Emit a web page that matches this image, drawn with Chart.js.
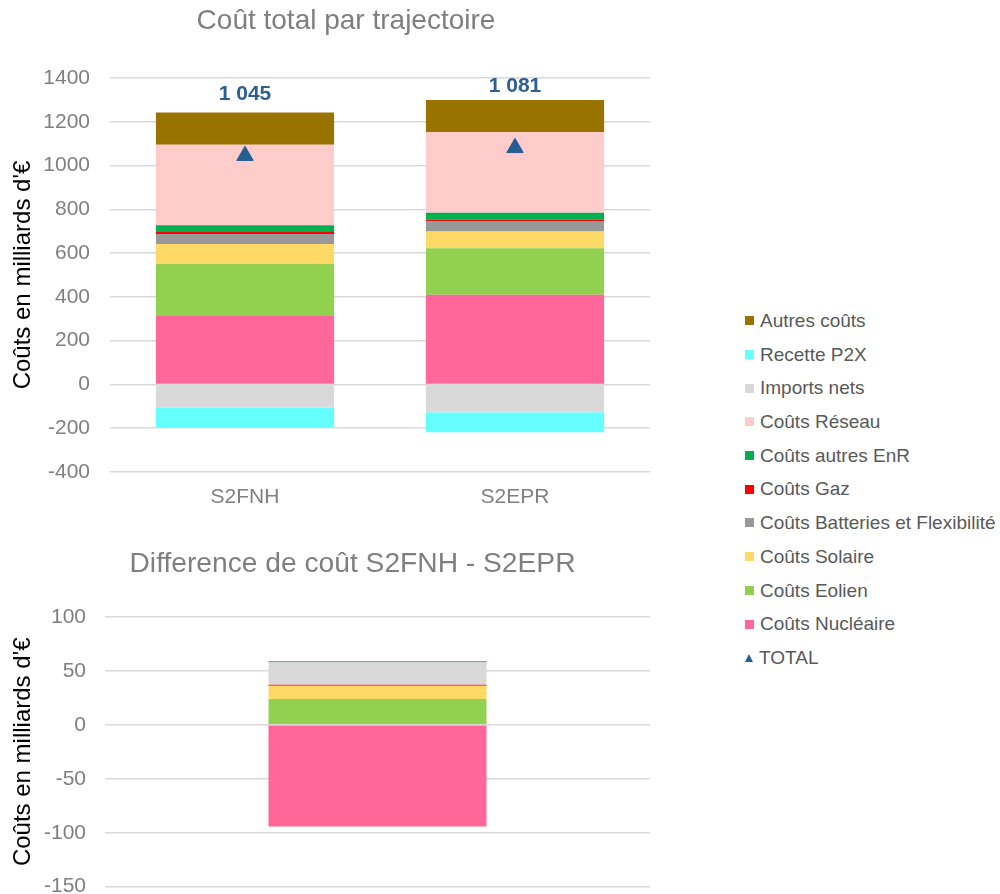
<!DOCTYPE html>
<html>
<head>
<meta charset="utf-8">
<script src="https://cdn.jsdelivr.net/npm/chart.js@4"></script>
<style>
  html, body { margin: 0; padding: 0; background: #fff; width: 1000px; height: 894px; overflow: hidden; }
  #topWrap { position: absolute; left: 0; top: 0; width: 692px; height: 530px; }
  #diffWrap { position: absolute; left: 0; top: 530px; width: 705px; height: 390px; }
  #legend { position: absolute; left: 745px; top: 304px; margin: 0; padding: 0; list-style: none;
            font-family: "Liberation Sans", Arial, sans-serif; font-size: 19px; color: #595959; }
  #legend li { height: 33.7px; line-height: 33.7px; white-space: nowrap; display: flex; align-items: center; }
  #legend .sq { display: inline-block; width: 9px; height: 9px; margin-right: 6px; }
  #legend .tri { display: inline-block; width: 0; height: 0; margin-right: 6px;
                 border-left: 4.5px solid transparent; border-right: 4.5px solid transparent; border-bottom: 8px solid #255E91; }
</style>
</head>
<body>
<div id="topWrap"><canvas id="totalChart"></canvas></div>
<div id="diffWrap"><canvas id="diffChart"></canvas></div>
<ul id="legend"></ul>
<script>
// Trajectories compared (billions of euros)
const trajectories = ['S2FNH', 'S2EPR'];

const seriesNames = [
  'Coûts Nucléaire', 'Coûts Eolien', 'Coûts Solaire', 'Coûts Batteries et Flexibilité',
  'Coûts Gaz', 'Coûts autres EnR', 'Coûts Réseau', 'Imports nets', 'Recette P2X', 'Autres coûts'
];
const seriesColors = [
  '#FF6699', '#92D050', '#FFD966', '#999999',
  '#FF0000', '#00B050', '#FFCCCC', '#D9D9D9', '#66FFFF', '#997300'
];

const coutsNucleaire = [316, 410];
const coutsEolien    = [235.8, 212];
const coutsSolaire   = [89.3, 77];
const coutsBatteries = [46.7, 47];
const coutsGaz       = [9, 8];
const coutsAutresEnR = [30, 30];
const coutsReseau    = [368.3, 369];
const importsNets    = [-106, -126.5];
const recetteP2X     = [-91.6, -92];
const autresCouts    = [147.5, 146.7];
const totalCouts     = [1045, 1081];

// Difference S2FNH - S2EPR, per cost item (same order as seriesNames)
const diffCategory = ['S2FNH - S2EPR'];
const diffValues = [-94, 23.8, 12.3, -0.3, 1, 0, -0.7, 20.5, 0.4, 0.8];

// Axis ranges: [min, max, step]
const totalAxis = [-400, 1400, 200];
const diffAxis = [-150, 100, 50];

const seriesValues = [
  coutsNucleaire, coutsEolien, coutsSolaire, coutsBatteries, coutsGaz,
  coutsAutresEnR, coutsReseau, importsNets, recetteP2X, autresCouts
];

const FONT = '"Liberation Sans", Arial, sans-serif';
const GREY = '#7f7f7f';
const GRID = '#d9d9d9';

function frNumber(v) {
  return String(Math.round(v)).replace(/\B(?=(\d{3})+(?!\d))/g, ' ');
}

// Draws the total value above each TOTAL marker
const totalLabels = {
  id: 'totalLabels',
  afterDatasetsDraw(chart) {
    const idx = chart.data.datasets.findIndex(d => d.type === 'line');
    if (idx < 0) return;
    const meta = chart.getDatasetMeta(idx);
    const ctx = chart.ctx;
    ctx.save();
    ctx.font = 'bold 21px ' + FONT;
    ctx.fillStyle = '#2E5F8E';
    ctx.textAlign = 'center';
    ctx.textBaseline = 'middle';
    meta.data.forEach((pt, i) => {
      ctx.fillText(frNumber(chart.data.datasets[idx].data[i]), pt.x, pt.y - 62);
    });
    ctx.restore();
  }
};

function yAxis(range, width, tickPad) {
  return {
    stacked: true,
    min: range[0], max: range[1],
    afterFit: s => { s.width = width; },
    ticks: { stepSize: range[2], color: GREY, padding: tickPad, font: { family: FONT, size: 21 },
             callback: v => String(v) },
    grid: { color: GRID, lineWidth: 1.5, drawTicks: false },
    border: { display: false },
    title: { display: true, text: "Coûts en milliards d'€", color: '#000', font: { family: FONT, size: 24 },
             padding: { top: 9, bottom: 0 } }
  };
}

// Empty right-hand margin axis, keeps the plot clear of the right side
function marginAxis(width) {
  return {
    position: 'right',
    display: true,
    afterFit: s => { s.width = width; },
    grid: { display: false, drawTicks: false },
    border: { display: false },
    ticks: { display: false }
  };
}

const totalDatasets = seriesNames.map((name, k) => ({
  type: 'bar',
  label: name,
  data: seriesValues[k],
  backgroundColor: seriesColors[k],
  borderWidth: 0,
  barPercentage: 0.66,
  categoryPercentage: 1
}));
totalDatasets.push({
  type: 'line',
  label: 'TOTAL',
  data: totalCouts,
  order: -1,
  showLine: false,
  pointStyle: 'triangle',
  pointRadius: 9.5,
  pointHoverRadius: 9.5,
  backgroundColor: '#255E91',
  borderColor: '#255E91',
  borderWidth: 1
});

const totalChart = new Chart(document.getElementById('totalChart'), {
  type: 'bar',
  data: { labels: trajectories, datasets: totalDatasets },
  options: {
    responsive: true,
    maintainAspectRatio: false,
    animation: false,
    layout: { padding: { left: 0, right: 0, top: 0, bottom: 18 } },
    plugins: {
      legend: { display: false },
      tooltip: { enabled: false },
      title: {
        display: true, text: 'Coût total par trajectoire', color: GREY,
        font: { family: FONT, size: 28, weight: 'normal' },
        padding: { top: 4.9, bottom: 39.5 }
      }
    },
    scales: {
      x: {
        stacked: true,
        afterFit: s => { s.height = 40; },
        grid: { display: false, drawTicks: false },
        border: { display: false },
        ticks: { color: GREY, padding: 13, font: { family: FONT, size: 21 } }
      },
      y: yAxis(totalAxis, 110, 20),
      yMargin: marginAxis(42)
    }
  },
  plugins: [totalLabels]
});

const diffDatasets = seriesNames.map((name, k) => ({
  label: name,
  data: [diffValues[k]],
  backgroundColor: seriesColors[k],
  borderWidth: 0,
  barPercentage: 0.4,
  categoryPercentage: 1
}));

new Chart(document.getElementById('diffChart'), {
  type: 'bar',
  data: { labels: diffCategory, datasets: diffDatasets },
  options: {
    responsive: true,
    maintainAspectRatio: false,
    animation: false,
    layout: { padding: { left: 0, right: 0, top: 0, bottom: 33.3 } },
    plugins: {
      legend: { display: false },
      tooltip: { enabled: false },
      title: {
        display: true, text: 'Difference de coût S2FNH - S2EPR', color: GREY,
        font: { family: FONT, size: 28.2, weight: 'normal' },
        padding: { top: 17.1, bottom: 35.9 }
      }
    },
    scales: {
      x: {
        stacked: true,
        afterFit: s => { s.height = 0; },
        grid: { display: false, drawTicks: false },
        border: { display: false },
        ticks: { display: false }
      },
      y: yAxis(diffAxis, 105, 19),
      yMargin: marginAxis(55)
    }
  }
});

// Legend built from the total chart's series: cost items top-down, then TOTAL
const legendEl = document.getElementById('legend');
const bars = totalChart.data.datasets.filter(d => d.type === 'bar').slice().reverse();
const lines = totalChart.data.datasets.filter(d => d.type === 'line');
bars.concat(lines).forEach(ds => {
  const li = document.createElement('li');
  const mark = document.createElement('span');
  if (ds.type === 'line') {
    mark.className = 'tri';
  } else {
    mark.className = 'sq';
    mark.style.background = ds.backgroundColor;
  }
  li.appendChild(mark);
  li.appendChild(document.createTextNode(ds.label));
  legendEl.appendChild(li);
});
</script>
</body>
</html>
